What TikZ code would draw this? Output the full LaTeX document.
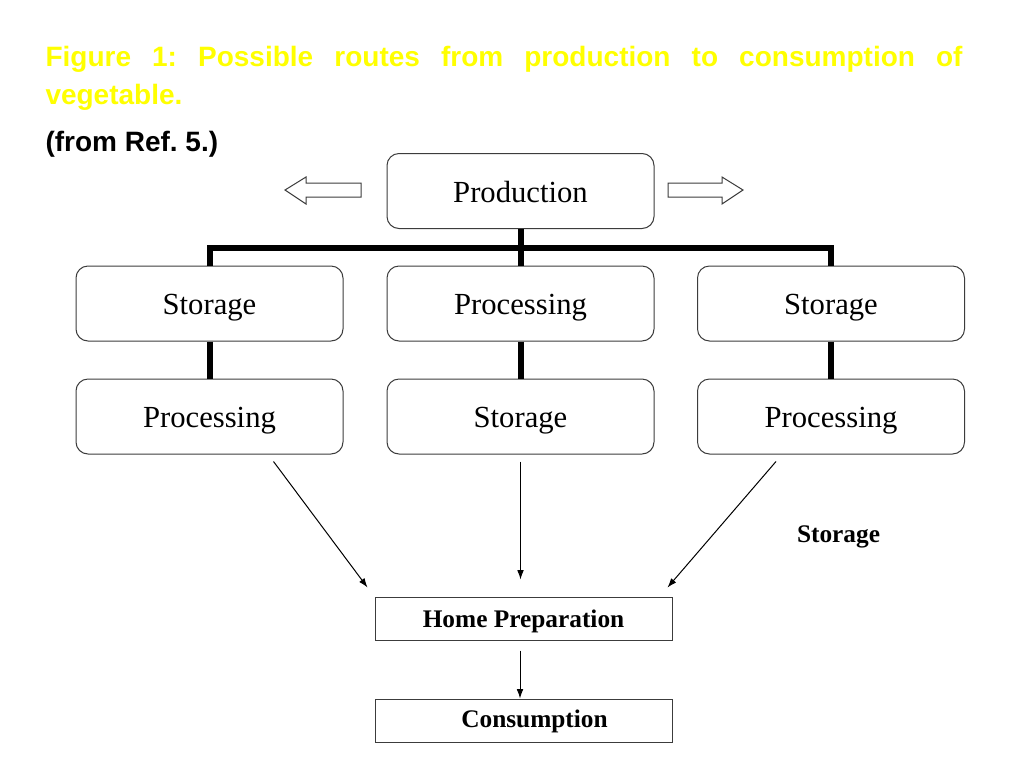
\documentclass[tikz,border=0pt]{standalone}
\usepackage{fontspec}
\setmainfont{Liberation Serif}
\newfontfamily\arialfont{Liberation Sans}
\usetikzlibrary{arrows.meta,calc}
\definecolor{titleyellow}{RGB}{255, 255, 0}
\definecolor{boxline}{RGB}{60, 60, 60}
\tikzset{every picture/.style={line width=0.75pt}}
\tikzset{
  roundbox/.style={draw=boxline, rounded corners=9pt, minimum width=200.25pt, minimum height=56.25pt, inner sep=0pt, text height=20pt, text depth=2.8pt, font=\fontsize{23}{28}\selectfont},
  plainbox/.style={draw=boxline, minimum width=222.75pt, minimum height=32.25pt, inner sep=0pt, text height=15pt, text depth=2.2pt, font=\bfseries\fontsize{19}{23}\selectfont},
  busline/.style={line width=4.5pt},
  thinarrow/.style={line width=0.75pt, -{Latex[length=7pt,width=5pt]}},
  blockarrow/.style={draw=boxline, line width=0.75pt, fill=white},
}

\begin{document}
\begin{tikzpicture}[x=0.75pt,y=0.75pt,yscale=-1,xscale=1]
\fill[white] (0,0) rectangle (1024,768);
\path[use as bounding box] (0,0) rectangle (1024,768);

% Text Node
\node [anchor=north west, inner sep=0pt, text width=687.75pt, align=justify, text=titleyellow, font=\arialfont\bfseries\fontsize{21}{28}\selectfont] (title) at (45,46) {\frenchspacing Figure 1: Possible routes from production to consumption of \mbox{vegetable.}};
% Text Node
\node [anchor=base west, inner sep=0pt, font=\arialfont\bfseries\fontsize{21}{25}\selectfont] (ref) at (45,151) {\frenchspacing(from Ref. 5.)};

%Shape: Rounded Rect
\node [roundbox] (prod) at (520.5,191) {Production};
%Shape: Rounded Rect
\node [roundbox] (store1) at (209.5,303.5) {Storage};
\node [roundbox] (proc2) at (520.5,303.5) {Processing};
\node [roundbox] (store3) at (831,303.5) {Storage};
%Shape: Rounded Rect
\node [roundbox] (proc1) at (209.5,416.5) {Processing};
\node [roundbox] (store2) at (520.5,416.5) {Storage};
\node [roundbox] (proc3) at (831,416.5) {Processing};

%Shape: Rectangle
\node [plainbox] (home) at (523.5,618.5) {Home Preparation};
%Shape: Rectangle
\node [plainbox, text depth=5.2pt] (cons) at (524,720.5) {\hspace*{15.75pt}Consumption};

% Text Node
\node [inner sep=0pt, font=\bfseries\fontsize{19}{23}\selectfont] (storelbl) at (838.5,537) {Storage};

%Shape: Block Arrows
\draw [blockarrow] (285,190) -- (306,177) -- (306,183) -- (361,183) -- (361,197) -- (306,197) -- (306,204) -- cycle ;
\draw [blockarrow] (743,190) -- (722,177) -- (722,183) -- (668,183) -- (668,197) -- (722,197) -- (722,204) -- cycle ;

%Thick Lines
\coordinate (bus) at (520.5,248);
\draw [busline] (store1.north) |- (bus) -| (store3.north) ;
\draw [busline] (prod.south) -- (proc2.north) ;
\draw [busline] (store1.south) -- (proc1.north) ;
\draw [busline] (proc2.south) -- (store2.north) ;
\draw [busline] (store3.south) -- (proc3.north) ;

%Straight Lines
\draw [thinarrow] ($(proc1.south)+(64,7)$) -- ($(home.north west)+(-7,-9)$) ;
\draw [thinarrow] ($(store2.south)+(0,7)$) -- ($(home.north)+(-3,-17)$) ;
\draw [thinarrow] ($(proc3.south)+(-55,7)$) -- ($(home.north east)+(-5,-9)$) ;
\draw [thinarrow] ($(home.south)+(-3.5,10)$) -- ($(cons.north)+(-4,0)$) ;

\end{tikzpicture}
\end{document}
